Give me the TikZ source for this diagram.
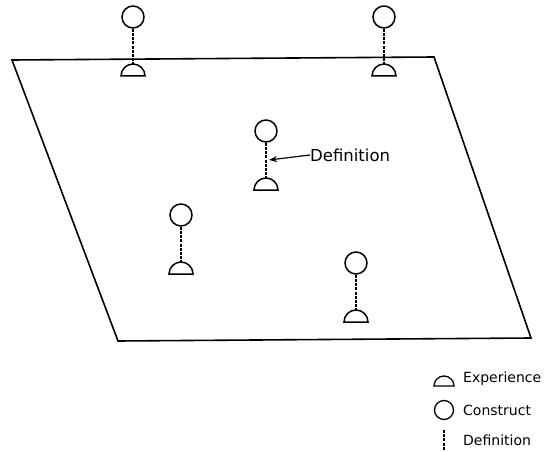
\documentclass[tikz,border=0pt]{standalone}
\usepackage{fontspec}
\setmainfont{DejaVu Sans}
\usetikzlibrary{calc,arrows.meta}
\begin{document}
\begin{tikzpicture}[x=1pt,y=-1pt,
  plane/.style={line width=1.6pt,line join=miter},
  construct/.style={circle,draw,line width=1.5pt,minimum size=22pt,inner sep=0pt},
  expbox/.style={draw,line width=1.5pt},
  defline/.style={line width=1.5pt,dash pattern=on 3pt off 1.2pt},
  lbl/.style={font=\fontsize{16.5}{18}\selectfont,inner sep=0pt,anchor=west},
  keylbl/.style={lbl,font=\fontsize{14}{16}\selectfont},
  pointer/.style={line width=1.2pt,-{Stealth[length=8pt,width=6pt]}}]
  \useasboundingbox (0,0) rectangle (544,452);

  % the plane of observation
  \draw[plane] (12,60) -- (434,57) -- (531,338) -- (118,341) -- cycle;

  % constructs tied by definitions to experiences
  \foreach \n/\x/\y in {a/133/17, b/384/17, c/266/131, d/181/215, e/356/263} {
    \node[construct] (c\n) at (\x,\y) {};
    \coordinate (e\n) at (\x,\y+59);
    \coordinate (t\n) at (\x,\y+47);
    \draw[expbox] ($(e\n)+(12pt,0)$) arc[start angle=0,end angle=180,radius=12pt] -- cycle;
    \draw[defline] (c\n.south) -- (t\n);
  }

  % labelled definition
  \node[lbl] (dlab) at (310,155) {Definition};
  \coordinate (dpt) at (269,160);
  \draw[pointer] (dlab.west) -- (dpt);

  % key
  \coordinate (kexp) at (444,386);
  \draw[expbox,line width=1.3pt] ($(kexp)+(10pt,0)$) arc[start angle=0,end angle=180,radius=10pt] -- cycle;
  \node[keylbl] (lexp) at (463,379) {Experience};
  \node[construct,minimum size=19pt,line width=1.3pt] (kcon) at (444,410) {};
  \node[keylbl] (lcon) at (463,410) {Construct};
  \coordinate (kd1) at (444,430);
  \coordinate (kd2) at (444,450);
  \draw[defline,line width=1.3pt] (kd1) -- (kd2);
  \node[keylbl] (ldef) at (463,440) {Definition};
\end{tikzpicture}
\end{document}
